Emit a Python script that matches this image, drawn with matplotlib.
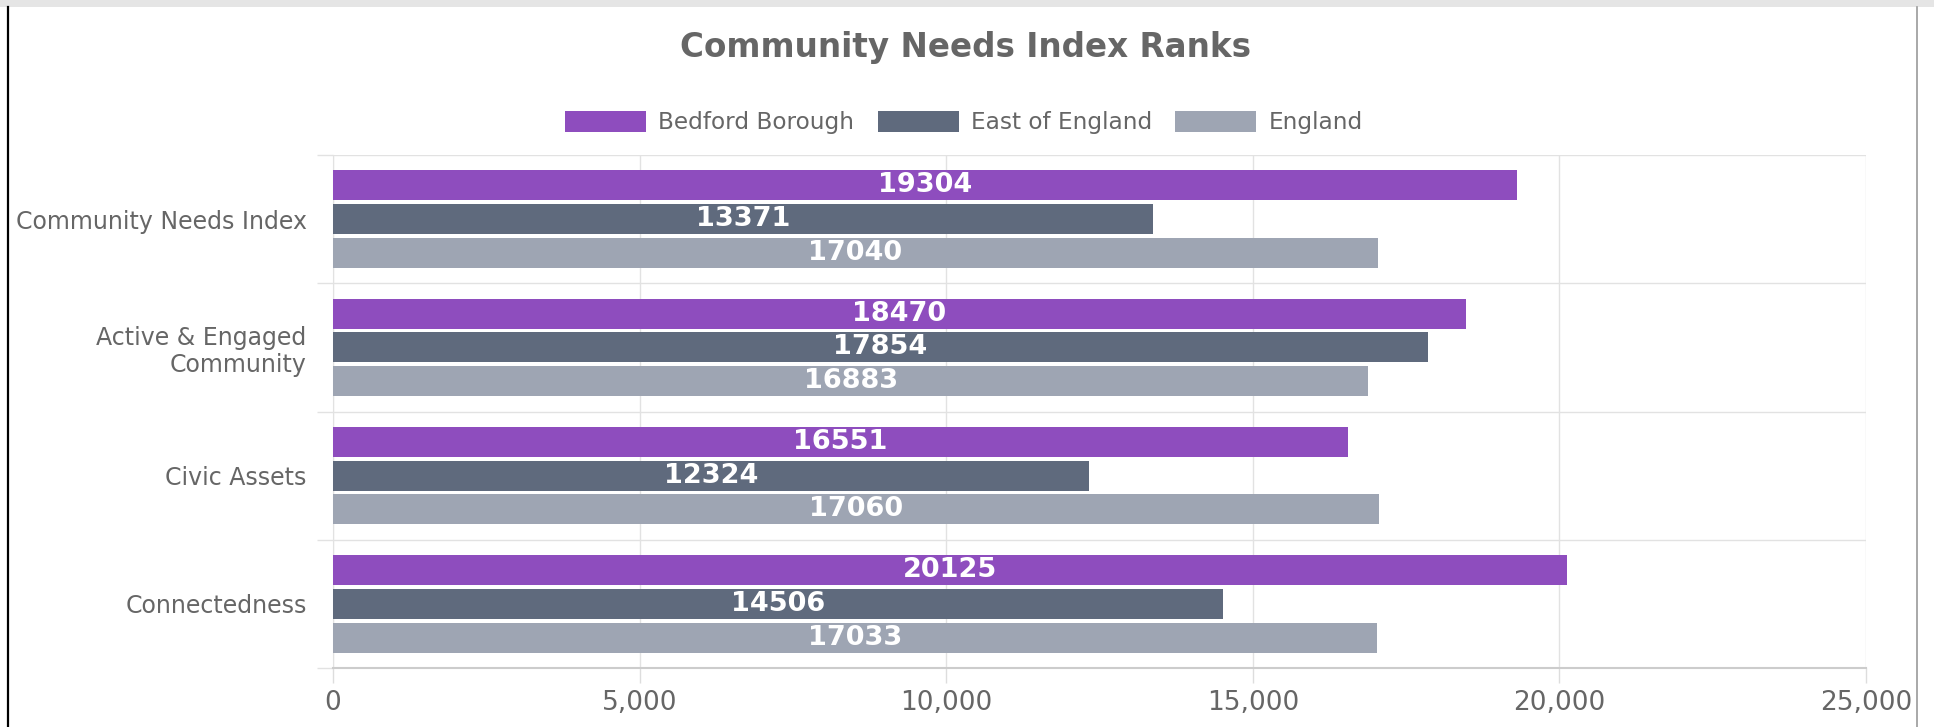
import matplotlib.pyplot as plt
from matplotlib.patches import Rectangle
from matplotlib.lines import Line2D
import numpy as np

# data
categories = ["Community Needs Index", "Active & Engaged\nCommunity", "Civic Assets", "Connectedness"]
series_names = ["Bedford Borough", "East of England", "England"]
bedford = [19304, 18470, 16551, 20125]
east_of_england = [13371, 17854, 12324, 14506]
england = [17040, 16883, 17060, 17033]
colors = ["#8e4dbe", "#5f6a7d", "#9ea5b3"]
x_ticks = [0, 5000, 10000, 15000, 20000, 25000]

W, H = 1934, 727
fig = plt.figure(figsize=(W / 100, H / 100), dpi=100)
fig.patch.set_facecolor("white")

# frame bits around the chart
fig.add_artist(Rectangle((0, 1 - 7 / H), 1, 7 / H, transform=fig.transFigure,
                         facecolor="#e5e5e5", edgecolor="none"))
fig.add_artist(Line2D([8 / W, 8 / W], [0, 1 - 7 / H], transform=fig.transFigure,
                      color="black", lw=1.6))
fig.add_artist(Line2D([1917 / W, 1917 / W], [0, 1 - 7 / H], transform=fig.transFigure,
                      color="#999999", lw=1.2))

left, right, top, bottom = 333, 1866, 155, 668
ax = fig.add_axes([left / W, (H - bottom) / H, (right - left) / W, (bottom - top) / H])

y = np.arange(len(categories))
bar_h = 0.234
offset = 0.263
all_series = [bedford, east_of_england, england]
for i, (vals, name, col) in enumerate(zip(all_series, series_names, colors)):
    pos = y + (i - 1) * offset
    ax.barh(pos, vals, height=bar_h, color=col, label=name, zorder=3)
    for p, v in zip(pos, vals):
        ax.text(v / 2, p, str(v), ha="center", va="center", color="white",
                fontsize=19.5, fontweight="bold", zorder=4)

ax.set_xlim(0, 25000)
ax.set_ylim(len(categories) - 0.5, -0.5)
ax.set_xticks(x_ticks)
ax.set_xticklabels([f"{t:,}" for t in x_ticks])
ax.set_yticks(y)
ax.set_yticklabels(categories, linespacing=1.15)
ax.set_yticks(np.arange(-0.5, len(categories), 1), minor=True)

ax.tick_params(axis="x", length=10.8, width=1, color="#dddddd", pad=5,
               labelsize=19, labelcolor="#666666")
ax.tick_params(axis="y", which="major", length=0, pad=19, labelsize=17,
               labelcolor="#666666")
ax.tick_params(axis="y", which="minor", length=11.5, width=1, color="#e2e2e2")

ax.grid(axis="x", color="#e2e2e2", lw=1, zorder=0)
ax.grid(axis="y", which="minor", color="#e2e2e2", lw=1, zorder=0)
ax.grid(axis="y", which="major", visible=False)

for s in ["top", "right"]:
    ax.spines[s].set_visible(False)
ax.spines["left"].set_color("#e2e2e2")
ax.spines["bottom"].set_color("#cccccc")
ax.spines["bottom"].set_linewidth(1.5)

fig.text(966 / W, 1 - 47 / H, "Community Needs Index Ranks", ha="center", va="center",
         fontsize=23.5, fontweight="bold", color="#666666")

fig.legend(loc="center", bbox_to_anchor=(964 / W, 1 - 122.5 / H), ncol=3, frameon=False,
           fontsize=16.7, labelcolor="#666666", handlelength=3.5, handleheight=1.0,
           handletextpad=0.52, columnspacing=1.0, borderpad=0)

plt.savefig("out.png", dpi=100)
